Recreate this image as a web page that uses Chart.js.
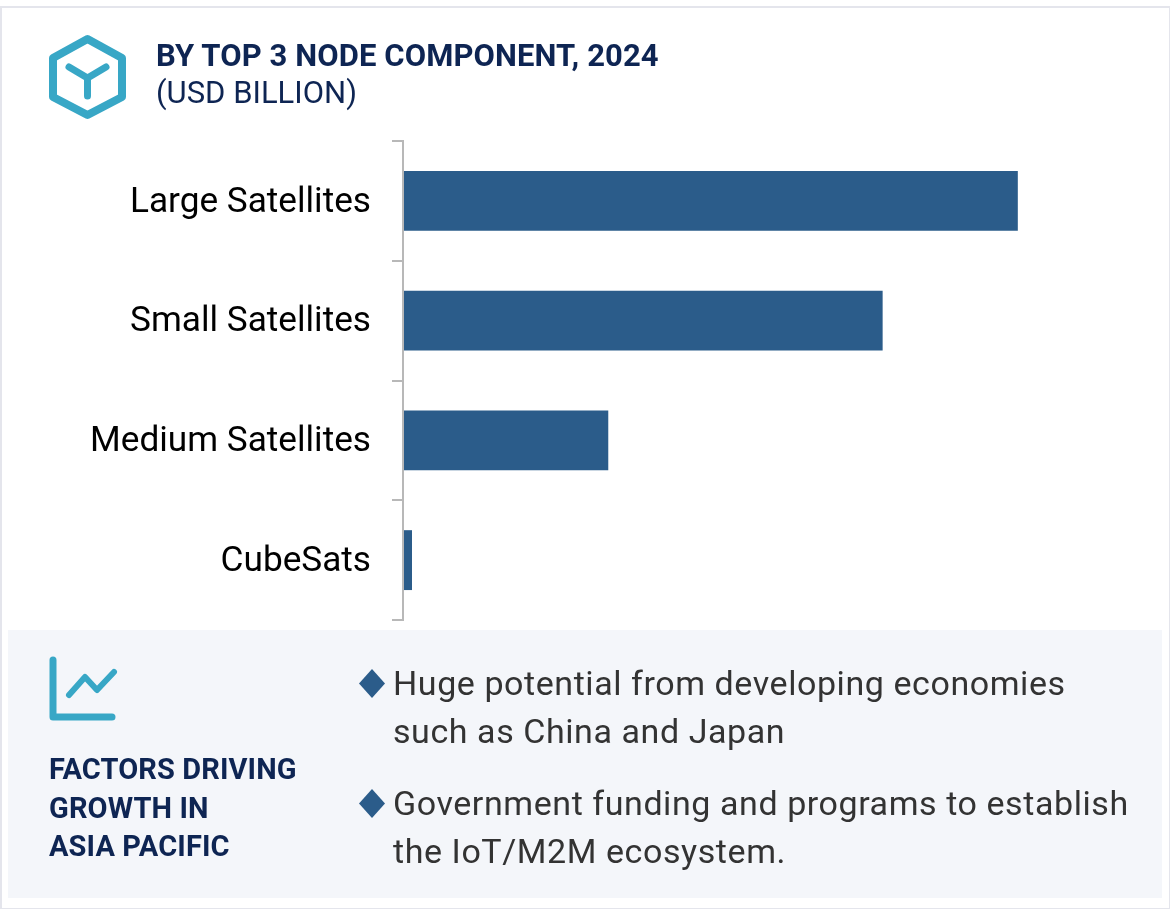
<!DOCTYPE html>
<html>
<head>
<meta charset="utf-8">
<script src="https://cdn.jsdelivr.net/npm/chart.js@4"></script>
<style>
  html, body { margin: 0; padding: 0; background: #fff; }
  body { width: 1170px; height: 909px; position: relative; overflow: hidden; font-family: Roboto, sans-serif; }
  .frame { position: absolute; left: 0; top: 6px; width: 1167px; height: 900px; border: 2px solid #e4e5ec; }
  .panel { position: absolute; left: 8px; top: 630px; width: 1154px; height: 268px; background: #f4f6fa; }
  #chartWrap { position: absolute; left: 0; top: 0; width: 1170px; height: 909px; }
  .txt { position: absolute; white-space: nowrap; }
  .title { left: 156px; top: 38px; font-size: 31px; line-height: 36px; font-weight: 700; color: #0e2553; letter-spacing: 0.1px; }
  .sub { left: 156px; top: 75px; font-size: 31px; line-height: 36px; color: #0e2553; }
  .factors { left: 49px; top: 750px; font-size: 29px; line-height: 38.5px; font-weight: 700; color: #0e2553; letter-spacing: 0.12px; }
  .point { left: 393px; font-size: 34px; line-height: 48px; color: #333; letter-spacing: 0.57px; }
  svg.icons { position: absolute; left: 0; top: 0; }
</style>
</head>
<body>
<div class="frame"></div>
<div class="panel"></div>
<div id="chartWrap"><canvas id="nodeChart" width="1170" height="909"></canvas></div>

<svg class="icons" width="1170" height="909">
  <path d="M87.5 39 L122 58 V97 L87.5 115 L53 97 V58 Z" fill="none" stroke="#38a7c6" stroke-width="8" stroke-linejoin="round"/>
  <path d="M69 67 L87.5 78 L106 67 M87.5 78 V96" fill="none" stroke="#38a7c6" stroke-width="7" stroke-linecap="round" stroke-linejoin="round"/>
  <path d="M53 660 V717 H112" fill="none" stroke="#38a7c6" stroke-width="7" stroke-linecap="round" stroke-linejoin="round"/>
  <path d="M69 695 L85 677 L97 690 L114 672" fill="none" stroke="#38a7c6" stroke-width="6" stroke-linecap="round" stroke-linejoin="round"/>
  <path d="M372 669 L385 683.5 L372 698 L359 683.5 Z" fill="#2b5c8a"/>
  <path d="M372 789 L385 803.5 L372 818 L359 803.5 Z" fill="#2b5c8a"/>
</svg>

<div class="txt title">BY TOP 3 NODE COMPONENT, 2024</div>
<div class="txt sub">(USD BILLION)</div>
<div class="txt factors">FACTORS DRIVING<br>GROWTH IN<br>ASIA PACIFIC</div>
<div class="txt point" style="top:659px">Huge potential from developing economies<br>such as China and Japan</div>
<div class="txt point" style="top:779px">Government funding and programs to establish<br>the IoT/M2M ecosystem.</div>

<script>
const categories = ["Large Satellites", "Small Satellites", "Medium Satellites", "CubeSats"];
const marketSize = [6.14, 4.79, 2.05, 0.09];
const axisMax = 7.5;

const ctx = document.getElementById("nodeChart").getContext("2d");

new Chart(ctx, {
  type: "bar",
  data: {
    labels: categories,
    datasets: [
      {
        data: marketSize,
        backgroundColor: "#2b5c8a",
        barPercentage: 1,
        categoryPercentage: 0.5,
      },
    ],
  },
  options: {
    indexAxis: "y",
    responsive: false,
    animation: false,
    layout: { padding: { top: 141, bottom: 289, left: 0, right: 16 } },
    plugins: { legend: { display: false }, tooltip: { enabled: false } },
    scales: {
      x: { display: false, min: 0, max: axisMax },
      y: {
        afterFit: (scale) => {
          scale.width = 403;
        },
        // axis sits on top of the bars so they appear to start just right of it
        border: { display: true, color: "#b8b8b8", width: 2, z: 1 },
        grid: { drawOnChartArea: false, color: "#b8b8b8", lineWidth: 2, tickLength: 11, z: 1 },
        ticks: {
          color: "#000",
          padding: 21,
          labelOffset: 2,
          font: { family: "Roboto", size: 35.2 },
        },
      },
    },
  },
});
</script>
</body>
</html>
